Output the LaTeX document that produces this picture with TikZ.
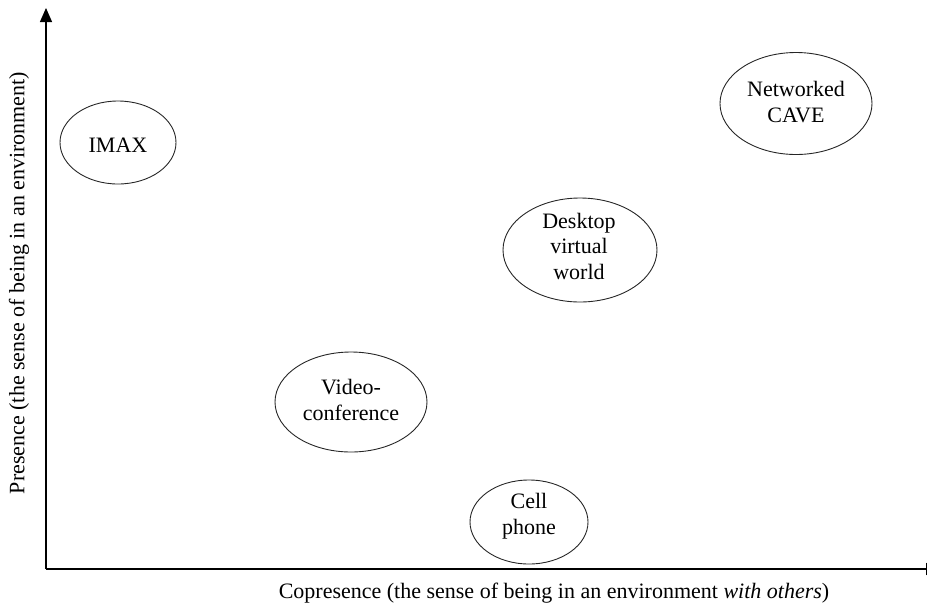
\documentclass[tikz,border=0pt]{standalone}
\usepackage{fontspec}
\setmainfont{Liberation Serif}
\usetikzlibrary{arrows.meta}
\begin{document}
\begin{tikzpicture}[x=1pt,y=-1pt,
  axis/.style={line width=1.4pt,-{Triangle[length=14pt,width=12pt]}},
  blob/.style={draw=black!85,line width=0.9pt},
  lbl/.style={font=\fontsize{22}{25.5}\selectfont,align=center,inner sep=0pt},
  axlbl/.style={font=\fontsize{22}{25}\selectfont,inner sep=0pt}]
\useasboundingbox (0,0) rectangle (927,606);
\coordinate (o) at (46,569);
\coordinate (ytip) at (46,8);
\coordinate (xtip) at (940,569);
\draw[axis] (o) -- (ytip);
\draw[axis] (o) -- (xtip);
\draw[blob] (118,142.5) ellipse [x radius=58, y radius=41.5];
\node[lbl] (imax) at (118,145) {IMAX};
\draw[blob] (796,103.5) ellipse [x radius=76, y radius=51];
\node[lbl] (cave) at (796,102) {Networked\\CAVE};
\draw[blob] (580,250) ellipse [x radius=77, y radius=52];
\node[lbl] (desk) at (579,246) {Desktop\\virtual\\world};
\draw[blob] (351,402) ellipse [x radius=76, y radius=50];
\node[lbl] (video) at (351,400) {Video-\\conference};
\draw[blob] (529,522) ellipse [x radius=59, y radius=42];
\node[lbl] (cell) at (529,516) {Cell\\phone};
\node[axlbl] (xl) at (554,593) {Copresence (the sense of being in an environment \textit{with others})};
\node[axlbl,rotate=90] (yl) at (19,283) {Presence (the sense of being in an environment)};
\end{tikzpicture}
\end{document}
